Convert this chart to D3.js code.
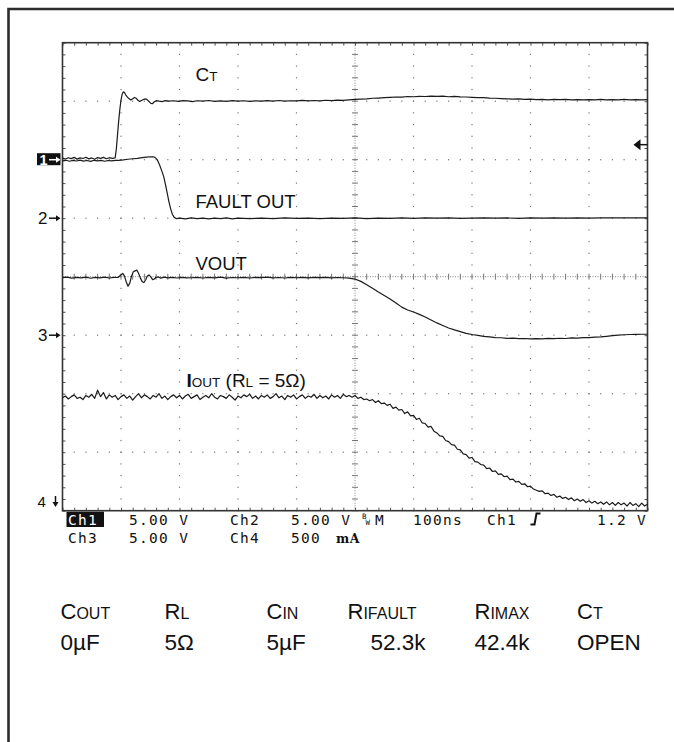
<!DOCTYPE html>
<html>
<head>
<meta charset="utf-8">
<script src="https://cdn.jsdelivr.net/npm/d3@7"></script>
<style>
  body { margin: 0; background: #fff; }
  svg { display: block; }
  text { font-family: "Liberation Sans", Arial, sans-serif; fill: #111; }
  .readout text { font-family: "DejaVu Sans Mono", monospace; font-size: 14.5px; letter-spacing: 1.3px; }
</style>
</head>
<body>
<div id="scope"></div>
<script>
// horizontal: ns across the screen (100ns/div), vertical: graticule divisions
var timeDomain = [0, 1000];
var divDomain = [-4, 4];

// channel settings: units per division and ground marker position (div)
var ch1 = {perDiv: 5, pos: 2};
var ch2 = {perDiv: 5, pos: 1};
var ch3 = {perDiv: 5, pos: -1};
var ch4 = {perDiv: 0.5, pos: -4};

// CT (Ch1), volts
var ctTrace = [[0,0.14],[5,0.06],[10,0.17],[15,0.09],[20,0.2],[25,0.05],[30,0.16],[35,0.1],[40,0.21],[45,0.07],[50,0.15],[55,0.04],[60,0.18],[65,0.11],[70,0.2],[75,0.08],[80,0.17],[85,0.12],[90,0.15],
  [92,0.9],[94,2.1],[96,3.3],[98,4.3],[100,5.1],[102,5.6],[104,5.8],[106,5.75],[108,5.55],[111,5.35],[114,5.2],[117,5.1],[120,5.2],[123,5.32],[126,5.25],[129,5.08],[132,4.98],[135,5.06],[139,5.16],[143,5.2],[147,5.02],[151,4.82],[154,4.8],[157,4.95],[161,5.05],[165,5.0],[170,4.96],[176,5.05],[182,5.0],[190,5.04],[198,4.98],[206,5.05],[214,5.02],[222,4.97],[230,5.04],[240,5.0],[250,5.06],[260,4.99],[270,5.03],[280,4.98],[290,5.05],[300,5.0],[310,5.04],[320,4.98],[330,5.03],[340,5.0],[350,5.05],[360,5.01],[370,5.06],[380,5.0],[390,5.04],[400,5.02],[410,5.07],[420,5.03],[430,5.06],[440,5.02],[450,5.08],[460,5.05],[470,5.1],[480,5.07],[490,5.12],[500,5.15],[510,5.18],[520,5.2],[530,5.25],[540,5.27],[550,5.3],[560,5.33],[570,5.36],[580,5.35],[590,5.4],[600,5.38],[610,5.42],[620,5.4],[630,5.44],[640,5.41],[650,5.43],[660,5.38],[670,5.41],[680,5.37],[690,5.36],[700,5.33],[710,5.3],[720,5.3],[730,5.26],[740,5.25],[750,5.22],[760,5.2],[770,5.18],[780,5.2],[790,5.15],[800,5.17],[810,5.14],[820,5.16],[830,5.12],[840,5.15],[850,5.13],[860,5.16],[870,5.12],[880,5.14],[890,5.11],[900,5.14],[910,5.12],[920,5.15],[930,5.11],[940,5.13],[950,5.12],[960,5.15],[970,5.12],[980,5.14],[990,5.12],[1000,5.13]];

// FAULT OUT (Ch2), volts
var faultTrace = [[0,4.9],[6,4.95],[12,4.87],[18,4.94],[24,4.89],[30,4.96],[36,4.88],[42,4.93],[48,4.86],[54,4.95],[60,4.9],[66,4.94],[72,4.87],[78,4.93],[84,4.9],[90,4.94],[96,4.95],[104,4.99],[112,5.04],[120,5.08],[128,5.12],[136,5.17],[144,5.22],[150,5.25],[155,5.25],[158,5.2],[162,5.0],[166,4.55],[170,4.0],[173,3.55],[176,2.9],[179,2.15],[182,1.4],[185,0.78],[188,0.32],[191,0.07],[195,-0.04],[200,0.0],[210,-0.06],[220,0.02],[230,-0.04],[240,0.0],[250,-0.05],[260,0.01],[270,-0.03],[280,0.02],[290,-0.05],[300,0.0],[320,-0.04],[340,0.01],[360,-0.03],[380,0.02],[400,-0.02],[420,0.01],[440,-0.04],[460,0.0],[480,-0.02],[500,0.02],[520,-0.03],[540,0.01],[560,-0.02],[580,0.02],[600,-0.01],[620,0.03],[640,0.0],[660,0.02],[680,-0.02],[700,0.01],[720,0.03],[740,0.0],[760,0.02],[780,-0.01],[800,0.02],[820,0.0],[840,0.03],[860,0.01],[880,0.03],[900,0.0],[920,0.02],[940,0.04],[960,0.02],[980,0.04],[1000,0.03]];

// VOUT (Ch3), volts
var voutTrace = [[0,4.92],[8,4.97],[16,4.88],[24,4.95],[32,4.9],[40,4.96],[48,4.87],[56,4.94],[64,4.9],[72,4.97],[80,4.89],[88,4.95],[95,4.93],[99,5.12],[103,5.28],[106,5.05],[109,4.55],[112,4.18],[115,4.45],[118,5.05],[121,5.42],[124,5.5],[127,5.56],[130,5.3],[133,4.9],[136,4.6],[139,4.5],[142,4.72],[145,5.05],[148,5.15],[151,4.98],[154,4.75],[157,4.8],[160,4.95],[164,4.98],[168,4.88],[174,4.96],[180,4.9],[188,4.95],[196,4.89],[204,4.94],[212,4.9],
  [220,4.91],[230,4.95],[240,4.89],[250,4.94],[260,4.9],[270,4.96],[280,4.88],[290,4.93],[300,4.91],[310,4.95],[320,4.89],[330,4.94],[340,4.92],[350,4.96],[360,4.9],[370,4.93],[380,4.89],[390,4.95],[400,4.91],[410,4.94],[420,4.9],[430,4.95],[440,4.92],[450,4.94],[460,4.9],[470,4.93],[480,4.91],
  [490,4.88],[500,4.8],[510,4.6],[520,4.32],[530,4.02],[540,3.7],[550,3.4],[560,3.1],[570,2.75],[580,2.4],[590,2.15],[600,1.98],[610,1.78],[620,1.55],[630,1.3],[640,1.05],[650,0.83],[660,0.62],[670,0.45],[680,0.3],[690,0.16],[700,0.06],[710,-0.02],[720,-0.1],[730,-0.14],[740,-0.2],[750,-0.22],[760,-0.27],[770,-0.25],[780,-0.3],[790,-0.28],[800,-0.32],[810,-0.29],[820,-0.31],[830,-0.27],[840,-0.3],[850,-0.26],[860,-0.28],[870,-0.23],[880,-0.25],[890,-0.2],[900,-0.21],[910,-0.17],[920,-0.15],[930,-0.1],[940,-0.04],[950,0.01],[960,0.04],[970,0.06],[980,0.07],[990,0.08],[1000,0.08]];

// IOUT (Ch4), amps
var ioutTrace = [[0,0.965],[5,0.98],[10,0.955],[15,0.975],[20,0.99],[25,0.96],[30,0.97],[35,0.95],[40,0.985],[45,0.97],[50,0.995],[55,0.96],[60,1.03],[65,0.975],[70,1.01],[75,0.955],[80,0.99],[85,0.97],[90,0.985],[95,0.95],
  [100,0.975],[105,0.99],[110,0.96],[115,0.98],[120,0.945],[125,0.975],[130,1.0],[135,0.965],[140,0.99],[145,0.975],[150,0.955],[155,0.985],[160,0.97],[165,1.0],[170,0.96],[175,0.98],[180,0.95],[185,0.975],[190,0.99],[195,0.965],
  [200,0.985],[205,0.955],[210,0.98],[215,0.995],[220,0.96],[225,0.975],[230,0.99],[235,0.95],[240,0.97],[245,0.985],[250,0.965],[255,1.0],[260,0.97],[265,0.955],[270,0.985],[275,0.975],[280,0.96],[285,0.99],[290,0.97],[295,0.945],
  [300,0.98],[305,0.965],[310,0.99],[315,0.975],[320,0.995],[325,0.96],[330,0.98],[335,0.955],[340,0.985],[345,0.97],[350,0.99],[355,0.96],[360,0.975],[365,1.0],[370,0.965],[375,0.98],[380,0.95],[385,0.985],[390,0.97],[395,0.99],
  [400,0.955],[405,0.975],[410,0.99],[415,0.96],[420,0.98],[425,0.97],[430,0.995],[435,0.96],[440,0.985],[445,0.965],[450,0.98],[455,0.955],[460,0.99],[465,0.97],[470,0.985],[475,0.96],[480,0.995],[485,0.975],[490,0.985],[495,0.97],
  [500,0.985],[505,0.96],[510,0.97],[515,0.95],[520,0.955],[525,0.94],[530,0.95],[535,0.925],[540,0.94],[545,0.915],[550,0.92],[555,0.9],[560,0.91],[565,0.875],[570,0.885],[575,0.86],[580,0.865],[585,0.83],[590,0.845],[595,0.81],
  [600,0.815],[605,0.78],[610,0.79],[615,0.75],[620,0.745],[625,0.715],[630,0.72],[635,0.68],[640,0.665],[645,0.64],[650,0.635],[655,0.6],[660,0.59],[665,0.565],[670,0.56],[675,0.525],[680,0.52],[685,0.485],[690,0.48],[695,0.45],
  [700,0.455],[705,0.42],[710,0.415],[715,0.395],[720,0.39],[725,0.36],[730,0.365],[735,0.335],[740,0.34],[745,0.31],[750,0.315],[755,0.29],[760,0.295],[765,0.265],[770,0.27],[775,0.245],[780,0.25],[785,0.225],[790,0.23],[795,0.205],
  [800,0.21],[805,0.185],[810,0.175],[815,0.165],[820,0.17],[825,0.145],[830,0.15],[835,0.13],[840,0.14],[845,0.115],[850,0.125],[855,0.105],[860,0.115],[865,0.095],[870,0.11],[875,0.085],[880,0.1],[885,0.08],[890,0.095],[895,0.07],
  [900,0.085],[905,0.065],[910,0.08],[915,0.06],[920,0.075],[925,0.055],[930,0.075],[935,0.05],[940,0.07],[945,0.045],[950,0.07],[955,0.05],[960,0.065],[965,0.04],[970,0.07],[975,0.045],[980,0.06],[985,0.035],[990,0.065],[995,0.04],[1000,0.055]];

var trigLevel = 1.2; // V on Ch1

// readout and conditions table
var readoutTop = ["Ch1", "5.00 V", "Ch2", "5.00 V", "M", "100ns", "Ch1", "1.2 V"];
var readoutBottom = ["Ch3", "5.00 V", "Ch4", "500"];
var tableHeads = [["C", "OUT"], ["R", "L"], ["C", "IN"], ["R", "IFAULT"], ["R", "IMAX"], ["C", "T"]];
var tableValues = ["0\u00b5F", "5\u03a9", "5\u00b5F", "52.3k", "42.4k", "OPEN"];

var W = 674, H = 742;
var svg = d3.select("#scope").append("svg").attr("width", W).attr("height", H);

// frame of the figure (only top and left edges show)
svg.append("path")
    .attr("d", "M8.5," + H + "V9H" + W)
    .attr("fill", "none")
    .attr("stroke", "#2b2b2b")
    .attr("stroke-width", 2.6);

var plot = {left: 62.5, right: 647.5, top: 42.7, bottom: 510.7};
var x = d3.scaleLinear().domain(timeDomain).range([plot.left, plot.right]);
var y = d3.scaleLinear().domain(divDomain).range([plot.bottom, plot.top]);

var minorT = d3.range(0, 1001, 20);
var minorD = d3.range(-20, 21).map(function (k) { return k / 5; });
var majorT = [100, 200, 300, 400, 600, 700, 800, 900];
var majorD = [-3, -2, -1, 1, 2, 3];

var grat = svg.append("g").attr("class", "graticule");

// dotted division lines
majorT.forEach(function (t) {
    grat.selectAll(null).data(minorD).enter().append("rect")
        .attr("x", x(t) - 0.6).attr("y", function (d) { return y(d) - 0.6; })
        .attr("width", 1.2).attr("height", 1.2).attr("fill", "#777");
});
majorD.forEach(function (d) {
    grat.selectAll(null).data(minorT).enter().append("rect")
        .attr("x", function (t) { return x(t) - 0.6; }).attr("y", y(d) - 0.6)
        .attr("width", 1.2).attr("height", 1.2).attr("fill", "#777");
});

// centre cross with fine ticks
grat.append("line").attr("x1", x(500)).attr("x2", x(500)).attr("y1", plot.top).attr("y2", plot.bottom)
    .attr("stroke", "#888").attr("stroke-dasharray", "1,1.5");
grat.append("line").attr("x1", plot.left).attr("x2", plot.right).attr("y1", y(0)).attr("y2", y(0))
    .attr("stroke", "#888").attr("stroke-dasharray", "1,1.5");
grat.selectAll(null).data(minorD).enter().append("line")
    .attr("x1", x(500) - 3).attr("x2", x(500) + 3)
    .attr("y1", function (d) { return y(d); }).attr("y2", function (d) { return y(d); })
    .attr("stroke", "#777");
grat.selectAll(null).data(minorT).enter().append("line")
    .attr("y1", y(0) - 3).attr("y2", y(0) + 3)
    .attr("x1", function (t) { return x(t); }).attr("x2", function (t) { return x(t); })
    .attr("stroke", "#777");

// border ticks pointing inward
function edge(axis, tr) {
    var g = grat.append("g").attr("transform", tr).call(axis);
    g.select(".domain").remove();
    g.selectAll(".tick line").attr("stroke", "#555");
    g.selectAll("text").remove();
}
edge(d3.axisTop(x).tickValues(minorT).tickSize(-3), "translate(0," + plot.top + ")");
edge(d3.axisBottom(x).tickValues(minorT).tickSize(-3), "translate(0," + plot.bottom + ")");
edge(d3.axisLeft(y).tickValues(minorD).tickSize(-3), "translate(" + plot.left + ",0)");
edge(d3.axisRight(y).tickValues(minorD).tickSize(-3), "translate(" + plot.right + ",0)");

grat.append("rect")
    .attr("x", plot.left).attr("y", plot.top)
    .attr("width", plot.right - plot.left).attr("height", plot.bottom - plot.top)
    .attr("fill", "none").attr("stroke", "#333").attr("stroke-width", 1.6);

// traces
function trace(data, ch) {
    var line = d3.line()
        .x(function (d) { return x(d[0]); })
        .y(function (d) { return y(ch.pos + d[1] / ch.perDiv); });
    svg.append("path").datum(data)
        .attr("d", line)
        .attr("fill", "none")
        .attr("stroke", "#1b1b1b")
        .attr("stroke-width", 1.2)
        .attr("stroke-linejoin", "round");
}
trace(ctTrace, ch1);
trace(faultTrace, ch2);
trace(voutTrace, ch3);
trace(ioutTrace, ch4);

// channel ground markers
function rightArrow(yy, color) {
    svg.append("line").attr("x1", 49).attr("x2", 57).attr("y1", yy).attr("y2", yy)
        .attr("stroke", color).attr("stroke-width", 1.5);
    svg.append("path").attr("d", "M56," + (yy - 3) + "L60.5," + yy + "L56," + (yy + 3) + "Z").attr("fill", color);
}
var y1m = y(ch1.pos);
svg.append("rect").attr("x", 37).attr("y", y1m - 6.5).attr("width", 23.5).attr("height", 12).attr("fill", "#111");
svg.append("text").attr("x", 39.5).attr("y", y1m + 5).style("font-size", "14.5px").style("font-weight", "bold")
    .style("fill", "#fff").text("1");
rightArrow(y1m, "#fff");
[[ch2, "2"], [ch3, "3"]].forEach(function (c) {
    var yy = y(c[0].pos);
    svg.append("text").attr("x", 38).attr("y", yy + 6).style("font-size", "17px").text(c[1]);
    rightArrow(yy, "#111");
});
svg.append("text").attr("x", 37.5).attr("y", 507).style("font-size", "15px").text("4");
svg.append("line").attr("x1", 55.5).attr("x2", 55.5).attr("y1", 496).attr("y2", 503)
    .attr("stroke", "#111").attr("stroke-width", 1.5);
svg.append("path").attr("d", "M52.5,502L55.5,507L58.5,502Z").attr("fill", "#111");

// trigger level arrow on the right edge
var yt = y(ch1.pos + trigLevel / ch1.perDiv) - 1;
svg.append("line").attr("x1", 639).attr("x2", plot.right).attr("y1", yt).attr("y2", yt)
    .attr("stroke", "#111").attr("stroke-width", 1.5);
svg.append("path").attr("d", "M633.5," + yt + "L640.5," + (yt - 5.5) + "L640.5," + (yt + 5.5) + "Z").attr("fill", "#111");

// trace labels
var big = "18.5px", small = "13.5px";
var t1 = svg.append("text").attr("x", 195.5).attr("y", 81);
t1.append("tspan").style("font-size", "19px").text("C");
t1.append("tspan").style("font-size", small).text("T");
svg.append("text").attr("x", 195.5).attr("y", 208).style("font-size", big).text("FAULT OUT");
svg.append("text").attr("x", 195.5).attr("y", 270).style("font-size", big).text("VOUT");
var t4 = svg.append("text").attr("x", 186.5).attr("y", 386.5);
t4.append("tspan").style("font-size", "19px").style("font-weight", "bold").text("I");
t4.append("tspan").style("font-size", small).text("OUT");
t4.append("tspan").style("font-size", "19px").text(" (R");
t4.append("tspan").style("font-size", small).text("L");
t4.append("tspan").style("font-size", "19px").text(" = 5\u03a9)");

// scope readout
var ro = svg.append("g").attr("class", "readout");
var topX = [68, 129, 230, 291, 375, 413, 487, 597];
var botX = [68, 129, 230, 291];
ro.append("rect").attr("x", 66.5).attr("y", 511.7).attr("width", 37.5).attr("height", 15.3).attr("fill", "#111");
readoutTop.forEach(function (s, i) {
    ro.append("text").attr("x", topX[i]).attr("y", 525)
        .style("fill", i === 0 ? "#fff" : "#111").text(s);
});
readoutBottom.forEach(function (s, i) {
    ro.append("text").attr("x", botX[i]).attr("y", 542.5).text(s);
});
ro.append("text").attr("x", 336).attr("y", 542.5).style("font-weight", "bold")
    .style("font-family", "'DejaVu Serif', serif").style("font-size", "12.5px").style("letter-spacing", "0.5px").text("mA");
// bandwidth-limit mark and trigger slope
ro.append("text").attr("x", 362).attr("y", 518.5).style("font-size", "7.5px").style("letter-spacing", "0").text("B");
ro.append("text").attr("x", 365.5).attr("y", 525).style("font-size", "7.5px").style("letter-spacing", "0").text("W");
ro.append("path").attr("d", "M530.5,524.5H534.5L536.5,513.5H540.5")
    .attr("fill", "none").attr("stroke", "#111").attr("stroke-width", 2);

// test conditions table
var headX = [60.5, 164.5, 266.5, 347.5, 474.5, 577];
var valX = [60.5, 164.5, 266.5, 370.5, 474.5, 577];
tableHeads.forEach(function (h, i) {
    var t = svg.append("text").attr("x", headX[i]).attr("y", 619);
    t.append("tspan").style("font-size", "22px").text(h[0]);
    t.append("tspan").style("font-size", "16px").text(h[1]);
});
tableValues.forEach(function (v, i) {
    svg.append("text").attr("x", valX[i]).attr("y", 650).style("font-size", "22.5px").text(v);
});
</script>
</body>
</html>
